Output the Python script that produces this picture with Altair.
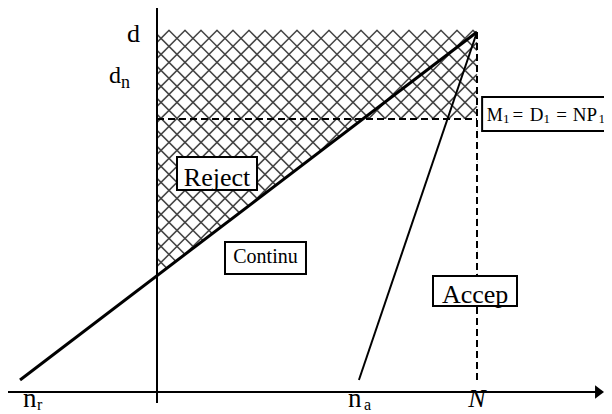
import altair as alt
import numpy as np
import pandas as pd

# ---------------- values (units: N = 100) ----------------
N_VALUE = 100.0          # position of N on the horizontal axis
D_TOP = 113.1            # level d (top of the hatched zone)
D_N = 85.3               # level d_n (dashed horizontal)
REJECT_X = [-42.8, 100.0]
REJECT_Y = [3.75, 112.5]
ACCEPT_X = [63.1, 100.0]
ACCEPT_Y = [3.75, 112.5]
AXIS_H = [-46.9, 137.5]  # horizontal axis extent
AXIS_V = [-3.45, 120.0]  # vertical axis extent
ARROW_AT = 138.3

# labels
LABEL_TEXT = ["d", "d", "n", "n", "r", "n", "a", "N",
              "M", "1", "=", "D", "1", "=", "NP", "1",
              "Reject", "Continu", "Accep"]
LABEL_X = [-5.31, -11.25, -11.25, -41.9, -37.5, 59.7, 64.7, 100.0,
           103.06, 108.1, 111.06, 116.47, 120.8, 124.8, 129.94, 138.0,
           18.75, 33.9, 99.4]
LABEL_Y = [109.4, 96.6, 95.0, -4.55, -5.65, -4.55, -5.65, -4.7,
           84.69, 84.2, 84.69, 84.69, 84.2, 84.69, 84.69, 84.2,
           64.4, 40.3, 27.8]
LABEL_SIZE = [26, 24, 18, 27, 16, 27, 16, 26,
              18, 13, 19, 19, 13, 19, 19, 13,
              26, 20, 26]
LABEL_ALIGN = ["right", "right", "left", "left", "left", "left", "left", "center",
               "left", "left", "left", "left", "left", "left", "left", "left",
               "center", "center", "center"]
LABEL_ITALIC = [False] * 7 + [True] + [False] * 11

# boxes around labels
BOX_NAME = ["Reject", "Continu", "Accep", "M1"]
BOX_X1 = [6.25, 21.25, 86.25, 101.6]
BOX_X2 = [31.25, 46.56, 112.5, 143.4]
BOX_Y1 = [63.1, 36.9, 26.9, 81.6]
BOX_Y2 = [73.4, 46.9, 36.25, 92.2]

# ---------------- scales ----------------
W, H = 596, 406
PX = 3.2
xs = alt.Scale(domain=[-46.5625, -46.5625 + W / PX], nice=False, zero=False)
ys = alt.Scale(domain=[120.0 - H / PX, 120.0], nice=False, zero=False)


def X(f="x"):
    return alt.X(f"{f}:Q", scale=xs, axis=None)


def Y(f="y"):
    return alt.Y(f"{f}:Q", scale=ys, axis=None)


# ---------------- geometry derived from the values ----------------
rej_at_axis = float(np.interp(0.0, REJECT_X, REJECT_Y))
x_cross = float(np.interp(D_N, REJECT_Y, REJECT_X))

# cross-hatch pattern (style) over the rectangle [0, N] x [rej_at_axis, D_TOP]
step = 5.0
segs = []
for c in np.arange(4.25 - 15 * step, D_TOP + step, step):      # y = x + c
    a = max(0.0, rej_at_axis - c)
    b = min(N_VALUE, D_TOP - c)
    if b > a:
        segs.append((a, a + c, b, b + c))
for c in np.arange(1.75, D_TOP + N_VALUE + step, step):          # y = -x + c
    a = max(0.0, c - D_TOP)
    b = min(N_VALUE, c - rej_at_axis)
    if b > a:
        segs.append((a, c - a, b, c - b))
hatch = pd.DataFrame(segs, columns=["x", "y", "x2", "y2"])

hatch_layer = alt.Chart(hatch).mark_rule(color="#444444", strokeWidth=1.5).encode(
    x=X(), y=Y(), x2="x2:Q", y2="y2:Q")

# white cover for the part of the rectangle that is not hatched
cover = pd.DataFrame({"x": [0.0, x_cross, N_VALUE],
                      "y": [rej_at_axis, D_N, D_N],
                      "y2": [rej_at_axis - 1.5] * 3})
cover_layer = alt.Chart(cover).mark_area(color="white", opacity=1).encode(
    x=X(), y=Y(), y2="y2:Q")

# dashed guides
dash = pd.DataFrame({"x": [0.0, N_VALUE], "y": [D_N, REJECT_Y[0]],
                     "x2": [N_VALUE, N_VALUE], "y2": [D_N, D_TOP]})
dash_layer = alt.Chart(dash).mark_rule(color="black", strokeWidth=2,
                                       strokeDash=[7, 4]).encode(
    x=X(), y=Y(), x2="x2:Q", y2="y2:Q")

reject_df = pd.DataFrame({"x": [REJECT_X[0]], "y": [REJECT_Y[0]],
                          "x2": [REJECT_X[1]], "y2": [REJECT_Y[1]]})
reject_layer = alt.Chart(reject_df).mark_rule(color="black", strokeWidth=3).encode(
    x=X(), y=Y(), x2="x2:Q", y2="y2:Q")

accept_df = pd.DataFrame({"x": [ACCEPT_X[0]], "y": [ACCEPT_Y[0]],
                          "x2": [ACCEPT_X[1]], "y2": [ACCEPT_Y[1]]})
accept_layer = alt.Chart(accept_df).mark_rule(color="black", strokeWidth=2).encode(
    x=X(), y=Y(), x2="x2:Q", y2="y2:Q")

axes_df = pd.DataFrame({"x": [AXIS_H[0], 0.0], "y": [0.0, AXIS_V[0]],
                        "x2": [AXIS_H[1], 0.0], "y2": [0.0, AXIS_V[1]]})
axes_layer = alt.Chart(axes_df).mark_rule(color="black", strokeWidth=2).encode(
    x=X(), y=Y(), x2="x2:Q", y2="y2:Q")

arrow_df = pd.DataFrame({"x": [ARROW_AT], "y": [0.0]})
arrow_layer = alt.Chart(arrow_df).mark_point(
    shape="M -1 -1.5 L 1 0 L -1 1.5 Z", size=81, filled=True,
    color="black", opacity=1, strokeWidth=0).encode(x=X(), y=Y())

boxes = pd.DataFrame({"name": BOX_NAME, "x": BOX_X1, "x2": BOX_X2,
                      "y": BOX_Y1, "y2": BOX_Y2})
box_layer = alt.Chart(boxes).mark_rect(fill="white", stroke="black",
                                       strokeWidth=2).encode(
    x=X(), x2="x2:Q", y=Y(), y2="y2:Q")

labels = pd.DataFrame({"text": LABEL_TEXT, "x": LABEL_X, "y": LABEL_Y,
                       "size": LABEL_SIZE, "align": LABEL_ALIGN,
                       "italic": LABEL_ITALIC})
text_layers = []
for i, row in labels.iterrows():
    text_layers.append(
        alt.Chart(labels.iloc[[i]]).mark_text(
            font="Liberation Serif", fontSize=int(row["size"]),
            align=row["align"], baseline="alphabetic", color="black",
            fontStyle="italic" if row["italic"] else "normal"
        ).encode(x=X(), y=Y(), text="text:N"))

chart = alt.layer(
    hatch_layer, cover_layer, dash_layer, reject_layer, accept_layer,
    axes_layer, arrow_layer, box_layer, *text_layers
).properties(
    width=W, height=H, padding=0,
    autosize=alt.AutoSizeParams(type="none"),
    background="white"
).configure_view(stroke=None)

chart.save("out.html", embed_options={"renderer": "svg", "actions": False})
